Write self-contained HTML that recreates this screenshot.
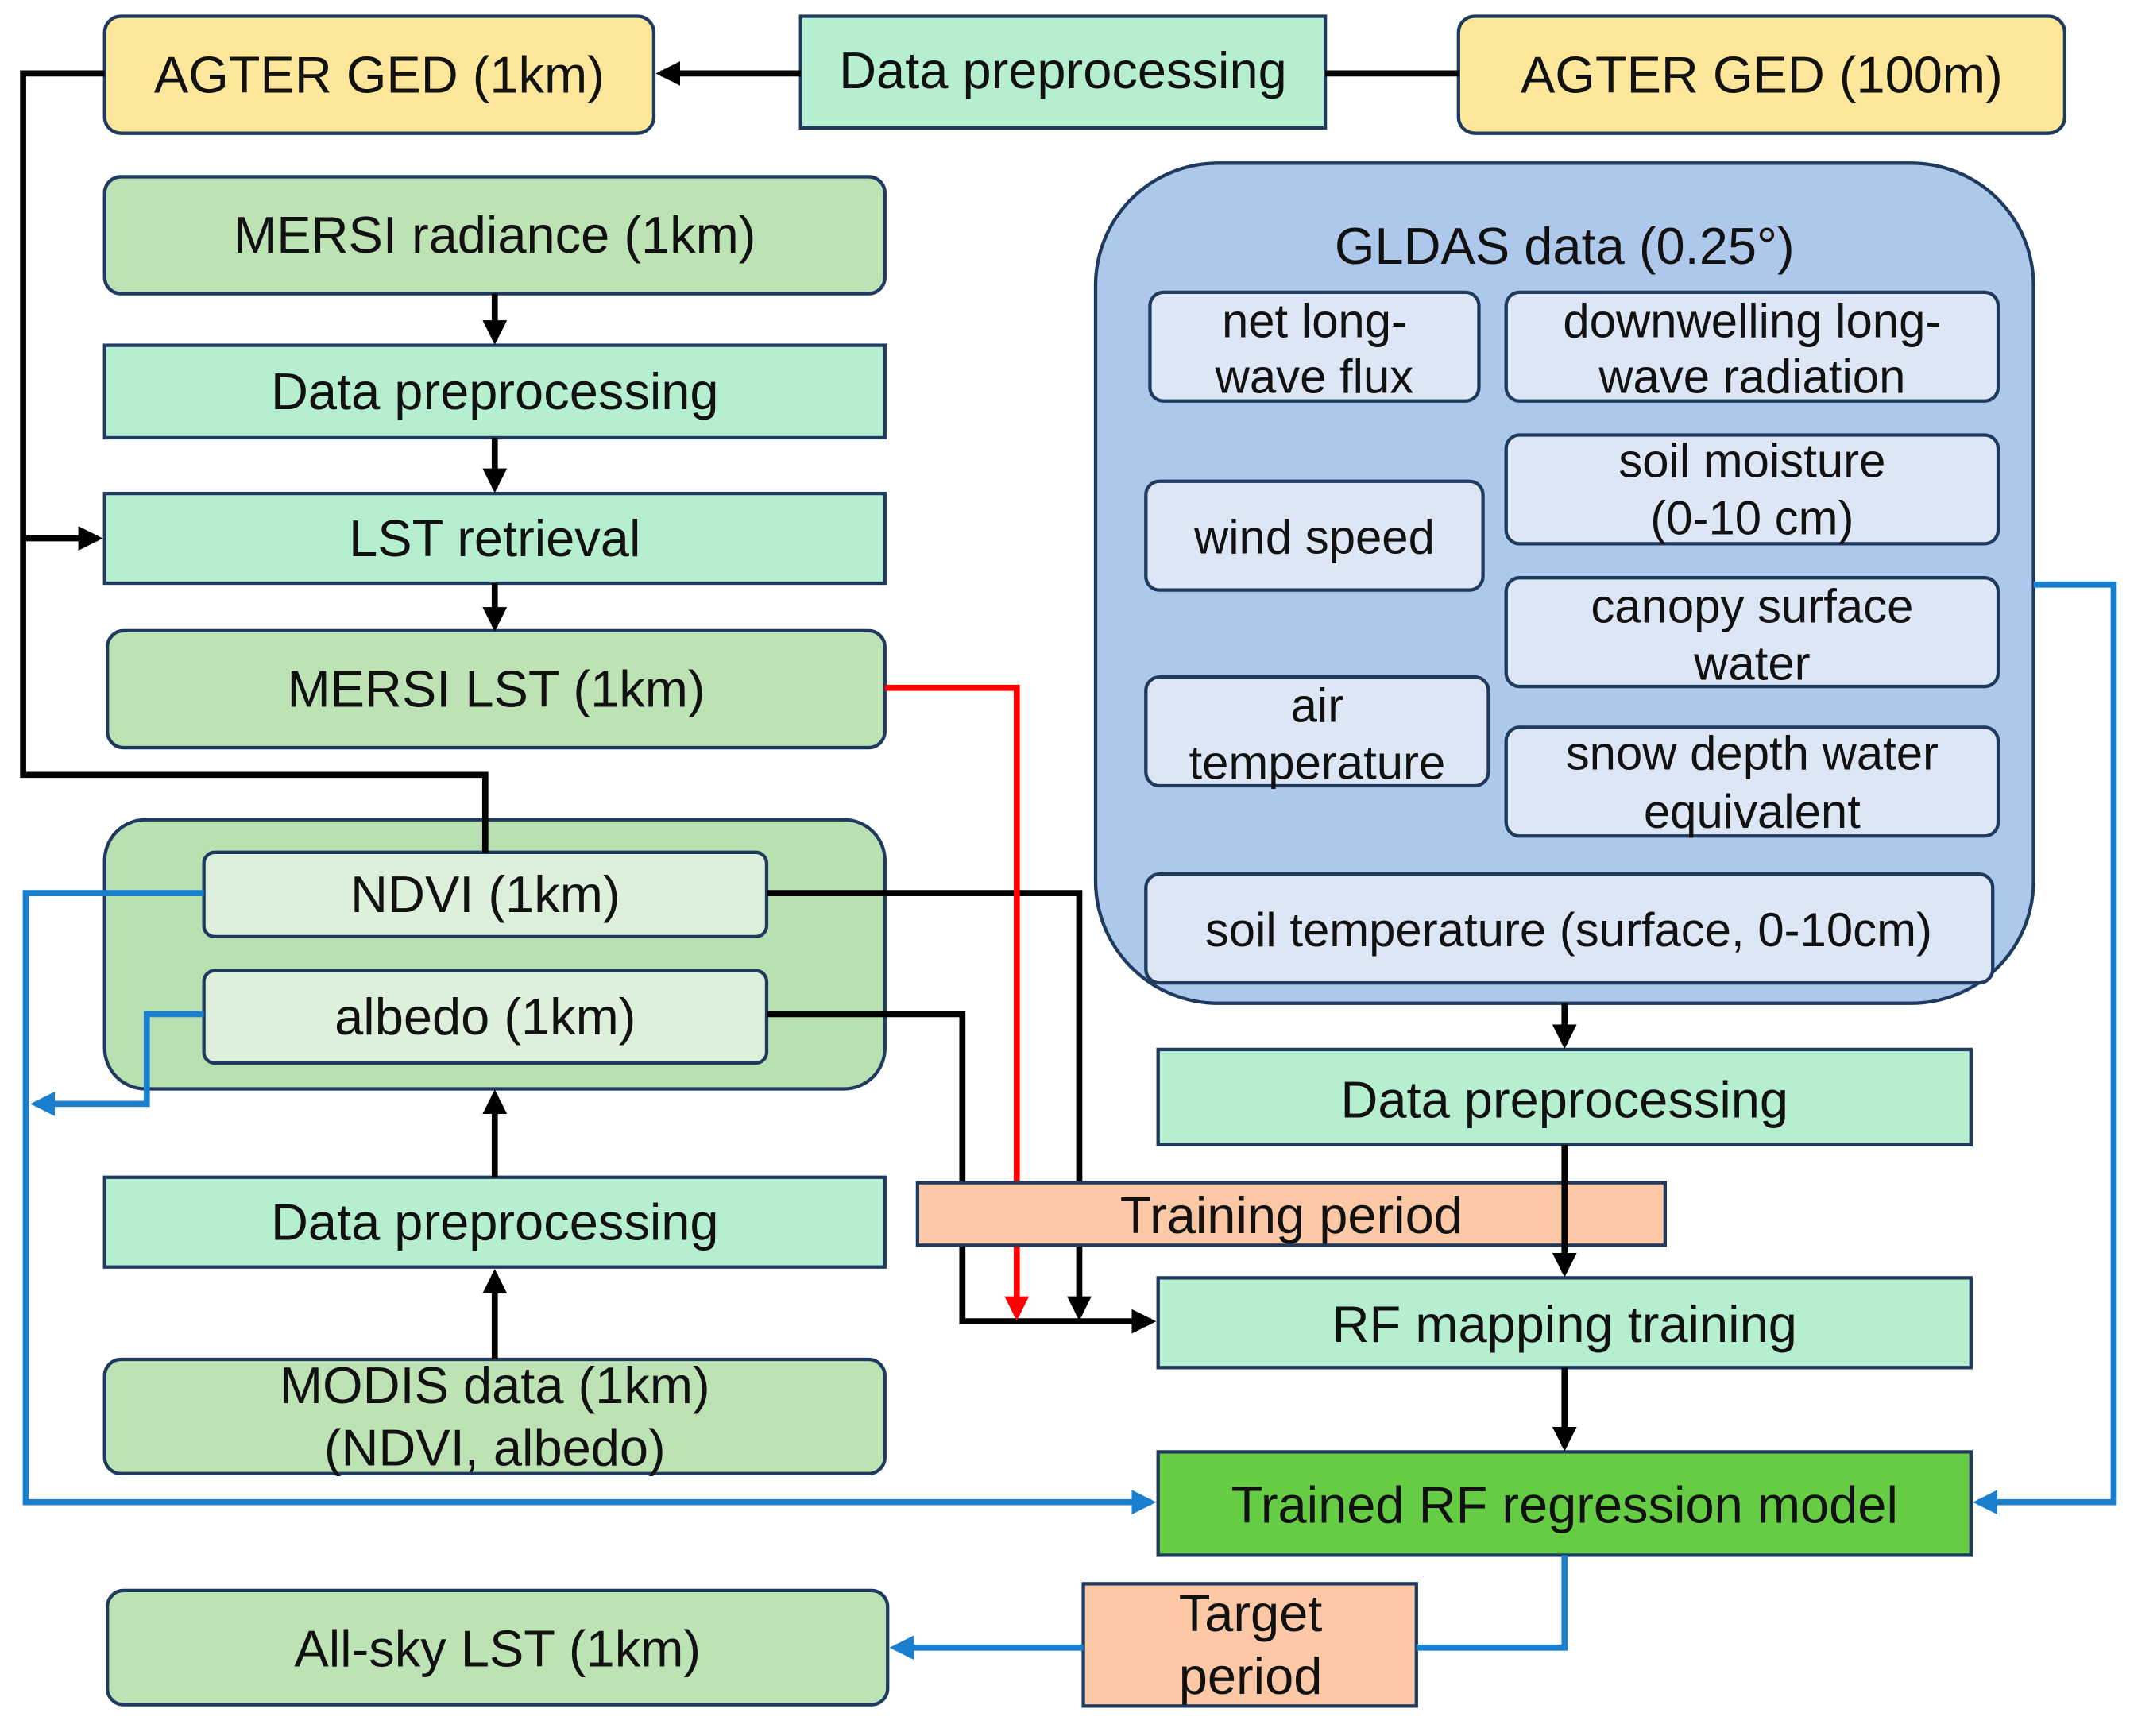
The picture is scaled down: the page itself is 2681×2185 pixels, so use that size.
<!DOCTYPE html>
<html><head><meta charset="utf-8"><style>
html,body{margin:0;padding:0;background:#fff;}
svg{display:block;}
text{font-family:"Liberation Sans",sans-serif;fill:#111;text-anchor:middle;}
</style></head><body>
<svg width="2681" height="2185" viewBox="0 0 1567 1277" preserveAspectRatio="none" xmlns="http://www.w3.org/2000/svg">
<defs>
<marker id="ab" markerWidth="4" markerHeight="4" refX="3.2" refY="2" orient="auto" markerUnits="strokeWidth"><path d="M0,0 L4,2 L0,4 Z" fill="#000"/></marker>
<marker id="ar" markerWidth="4" markerHeight="4" refX="3.2" refY="2" orient="auto" markerUnits="strokeWidth"><path d="M0,0 L4,2 L0,4 Z" fill="#f00"/></marker>
<marker id="au" markerWidth="4" markerHeight="4" refX="3.2" refY="2" orient="auto" markerUnits="strokeWidth"><path d="M0,0 L4,2 L0,4 Z" fill="#1b7fd0"/></marker>
</defs>
<g stroke="#1f3a5f" stroke-width="2.5">
<rect x="77" y="12" width="404" height="86" rx="12" fill="#fee69a"/>
<rect x="589" y="12" width="386" height="82" fill="#b6eed0"/>
<rect x="1073" y="12" width="446" height="86" rx="12" fill="#fee69a"/>
<rect x="77" y="130" width="574" height="86" rx="12" fill="#bde2b4"/>
<rect x="77" y="254" width="574" height="68" fill="#b6eed0"/>
<rect x="77" y="363" width="574" height="66" fill="#b6eed0"/>
<rect x="79" y="464" width="572" height="86" rx="12" fill="#bde2b4"/>
<rect x="77" y="603" width="574" height="198" rx="30" fill="#b8e0b0"/>
<rect x="150" y="627" width="414" height="62" rx="8" fill="#ddf0dc"/>
<rect x="150" y="714" width="414" height="68" rx="8" fill="#ddf0dc"/>
<rect x="77" y="866" width="574" height="66" fill="#b6eed0"/>
<rect x="77" y="1000" width="574" height="84" rx="12" fill="#bde2b4"/>
<rect x="79" y="1170" width="574" height="84" rx="12" fill="#bde2b4"/>
<rect x="806" y="120" width="690" height="618" rx="90" fill="#adc8ea"/>
<rect x="846" y="215" width="242" height="80" rx="10" fill="#dce6f4"/>
<rect x="1108" y="215" width="362" height="80" rx="10" fill="#dce6f4"/>
<rect x="843" y="354" width="248" height="80" rx="10" fill="#dce6f4"/>
<rect x="1108" y="320" width="362" height="80" rx="10" fill="#dce6f4"/>
<rect x="1108" y="425" width="362" height="80" rx="10" fill="#dce6f4"/>
<rect x="843" y="498" width="252" height="80" rx="10" fill="#dce6f4"/>
<rect x="1108" y="535" width="362" height="80" rx="10" fill="#dce6f4"/>
<rect x="843" y="643" width="623" height="80" rx="10" fill="#dce6f4"/>
<rect x="852" y="772" width="598" height="70" fill="#b6eed0"/>
<rect x="852" y="940" width="598" height="66" fill="#b6eed0"/>
<rect x="852" y="1068" width="598" height="76" fill="#66cc44"/>
<rect x="797" y="1165" width="245" height="90" fill="#fcc8a6"/>
</g>
<g fill="none" stroke="#000" stroke-width="4.5">
<path d="M77,54 H17 V570 H357 V627"/>
<path d="M17,396 H72" marker-end="url(#ab)"/>
<path d="M589,54 H486" marker-end="url(#ab)"/>
<path d="M975,54 H1073"/>
<path d="M364,216 V250" marker-end="url(#ab)"/>
<path d="M364,322 V359" marker-end="url(#ab)"/>
<path d="M364,429 V461" marker-end="url(#ab)"/>
<path d="M364,866 V805" marker-end="url(#ab)"/>
<path d="M364,1000 V937" marker-end="url(#ab)"/>
<path d="M564,657 H794 V968" marker-end="url(#ab)"/>
<path d="M564,746 H708 V972 H847" marker-end="url(#ab)"/>
<path d="M1151,738 V768" marker-end="url(#ab)"/>
<path d="M1151,1006 V1064" marker-end="url(#ab)"/>
</g>
<path d="M651,506 H748 V968" fill="none" stroke="#f00" stroke-width="4.5" marker-end="url(#ar)"/>
<rect x="675" y="870" width="550" height="46" fill="#fcc8a6" stroke="#1f3a5f" stroke-width="2.5"/>
<path d="M1151,842 V936" fill="none" stroke="#000" stroke-width="4.5" marker-end="url(#ab)"/>
<g fill="none" stroke="#1b7fd0" stroke-width="4.5">
<path d="M150,657 H19 V1105 H847" marker-end="url(#au)"/>
<path d="M150,746 H108 V812 H26" marker-end="url(#au)"/>
<path d="M1496,430 H1555 V1105 H1455" marker-end="url(#au)"/>
<path d="M1151,1144 V1212 H1042"/>
<path d="M797,1212 H658" marker-end="url(#au)"/>
</g>
<g font-size="38">
<text x="279" y="68">AGTER GED (1km)</text>
<text x="782" y="65">Data preprocessing</text>
<text x="1296" y="68">AGTER GED (100m)</text>
<text x="364" y="186">MERSI radiance (1km)</text>
<text x="364" y="301">Data preprocessing</text>
<text x="364" y="409">LST retrieval</text>
<text x="365" y="520">MERSI LST (1km)</text>
<text x="357" y="671">NDVI (1km)</text>
<text x="357" y="761">albedo (1km)</text>
<text x="364" y="912">Data preprocessing</text>
<text x="364" y="1032">MODIS data (1km)</text>
<text x="364" y="1078">(NDVI, albedo)</text>
<text x="366" y="1226">All-sky LST (1km)</text>
<text x="1151" y="194">GLDAS data (0.25°)</text>
<text x="1151" y="822">Data preprocessing</text>
<text x="950" y="907">Training period</text>
<text x="1151" y="987">RF mapping training</text>
<text x="1151" y="1120">Trained RF regression model</text>
<text x="920" y="1200">Target</text>
<text x="920" y="1246">period</text>
</g>
<g font-size="35">
<text x="967" y="248">net long-</text>
<text x="967" y="289">wave flux</text>
<text x="1289" y="248">downwelling long-</text>
<text x="1289" y="289">wave radiation</text>
<text x="967" y="407">wind speed</text>
<text x="1289" y="351">soil moisture</text>
<text x="1289" y="393">(0-10 cm)</text>
<text x="1289" y="458">canopy surface</text>
<text x="1289" y="500">water</text>
<text x="969" y="531">air</text>
<text x="969" y="573">temperature</text>
<text x="1289" y="566">snow depth water</text>
<text x="1289" y="609">equivalent</text>
<text x="1154" y="696">soil temperature (surface, 0-10cm)</text>
</g>
</svg>
</body></html>
